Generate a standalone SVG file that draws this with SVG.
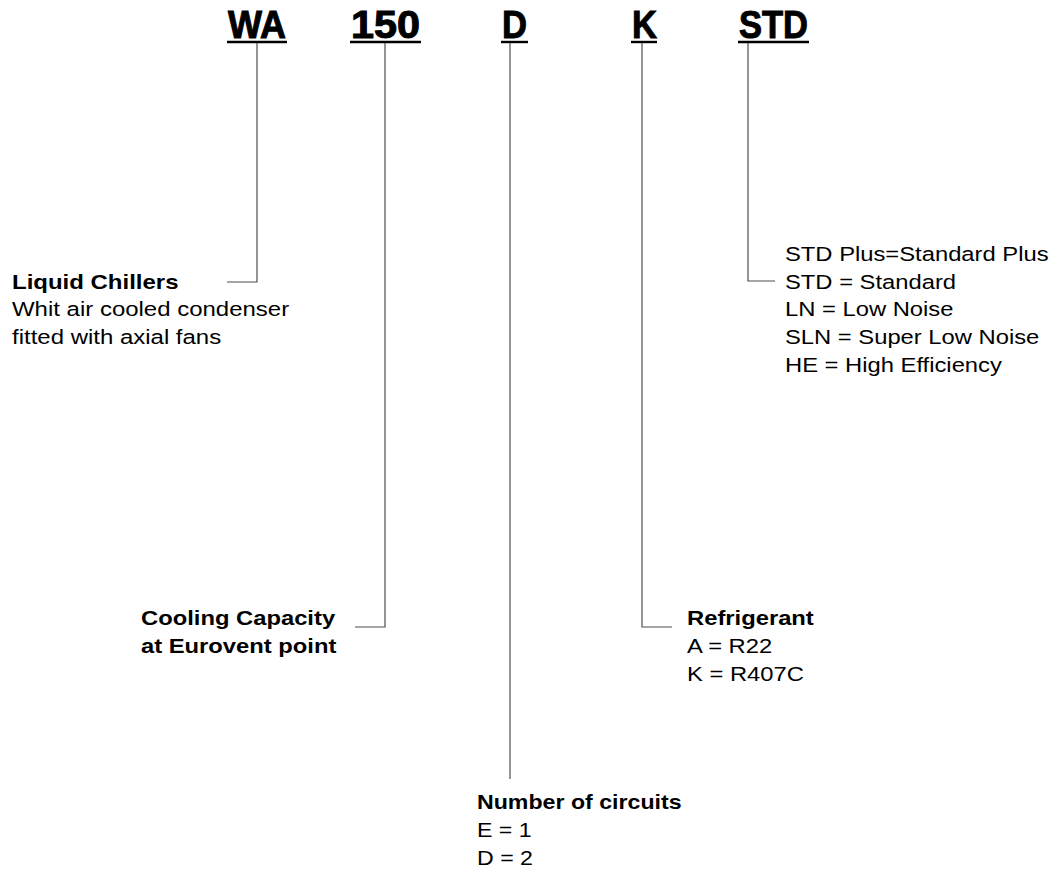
<svg xmlns="http://www.w3.org/2000/svg" width="1060" height="876" viewBox="0 0 1060 876">
<style>
.hd{font-family:"Liberation Sans Narrow","Liberation Sans",Arial,sans-serif;font-weight:bold;font-size:38px;fill:#000;stroke:#000;stroke-width:1}
.ul{stroke:#000;stroke-width:2.4;fill:none}
.t{font-family:"Liberation Sans",Arial,sans-serif;font-size:20.5px;fill:#000}
.b{font-weight:bold}
.cn{stroke:#4d4d4d;stroke-width:1.2;fill:none}
</style>
<rect width="1060" height="876" fill="#fff"/>
<g id="code-wa"><text class="hd" x="228" y="37.5" textLength="58" lengthAdjust="spacingAndGlyphs">WA</text><line class="ul" x1="227" y1="42" x2="287" y2="42"/></g>
<g id="code-150"><text class="hd" x="351" y="37.5" textLength="69" lengthAdjust="spacingAndGlyphs">150</text><line class="ul" x1="350" y1="42" x2="421" y2="42"/></g>
<g id="code-d"><text class="hd" x="502" y="37.5" textLength="25" lengthAdjust="spacingAndGlyphs">D</text><line class="ul" x1="501" y1="42" x2="528" y2="42"/></g>
<g id="code-k"><text class="hd" x="632" y="37.5" textLength="25" lengthAdjust="spacingAndGlyphs">K</text><line class="ul" x1="631" y1="42" x2="657" y2="42"/></g>
<g id="code-std"><text class="hd" x="739" y="37.5" textLength="69" lengthAdjust="spacingAndGlyphs">STD</text><line class="ul" x1="738" y1="42" x2="809" y2="42"/></g>
<g id="connectors">
<polyline class="cn" points="257,43 257,282 227,282"/>
<polyline class="cn" points="385,43 385,627 355,627"/>
<polyline class="cn" points="510,43 510,779"/>
<polyline class="cn" points="642,43 642,627 672,627"/>
<polyline class="cn" points="748,43 748,281 775,281"/>
</g>
<g id="label-liquid-chillers">
<text class="t" transform="translate(12,289) scale(1.17,1)"><tspan class="b" x="0" y="0">Liquid Chillers</tspan><tspan x="0" y="27.5">Whit air cooled condenser</tspan><tspan x="0" y="55">fitted with axial fans</tspan></text>
</g>
<g id="label-version">
<text class="t" transform="translate(785,261) scale(1.16,1)"><tspan x="0" y="0">STD Plus=Standard Plus</tspan><tspan x="0" y="27.7">STD = Standard</tspan><tspan x="0" y="55.4">LN = Low Noise</tspan><tspan x="0" y="83.1">SLN = Super Low Noise</tspan><tspan x="0" y="110.8">HE = High Efficiency</tspan></text>
</g>
<g id="label-cooling-capacity">
<text class="t b" transform="translate(141,625) scale(1.16,1)"><tspan x="0" y="0">Cooling Capacity</tspan><tspan x="0" y="28">at Eurovent point</tspan></text>
</g>
<g id="label-refrigerant">
<text class="t" transform="translate(687,625) scale(1.16,1)"><tspan class="b" x="0" y="0">Refrigerant</tspan><tspan x="0" y="28">A = R22</tspan><tspan x="0" y="56">K = R407C</tspan></text>
</g>
<g id="label-circuits">
<text class="t" transform="translate(477,809) scale(1.13,1)"><tspan class="b" x="0" y="0">Number of circuits</tspan><tspan x="0" y="28">E = 1</tspan><tspan x="0" y="56">D = 2</tspan></text>
</g>
</svg>
